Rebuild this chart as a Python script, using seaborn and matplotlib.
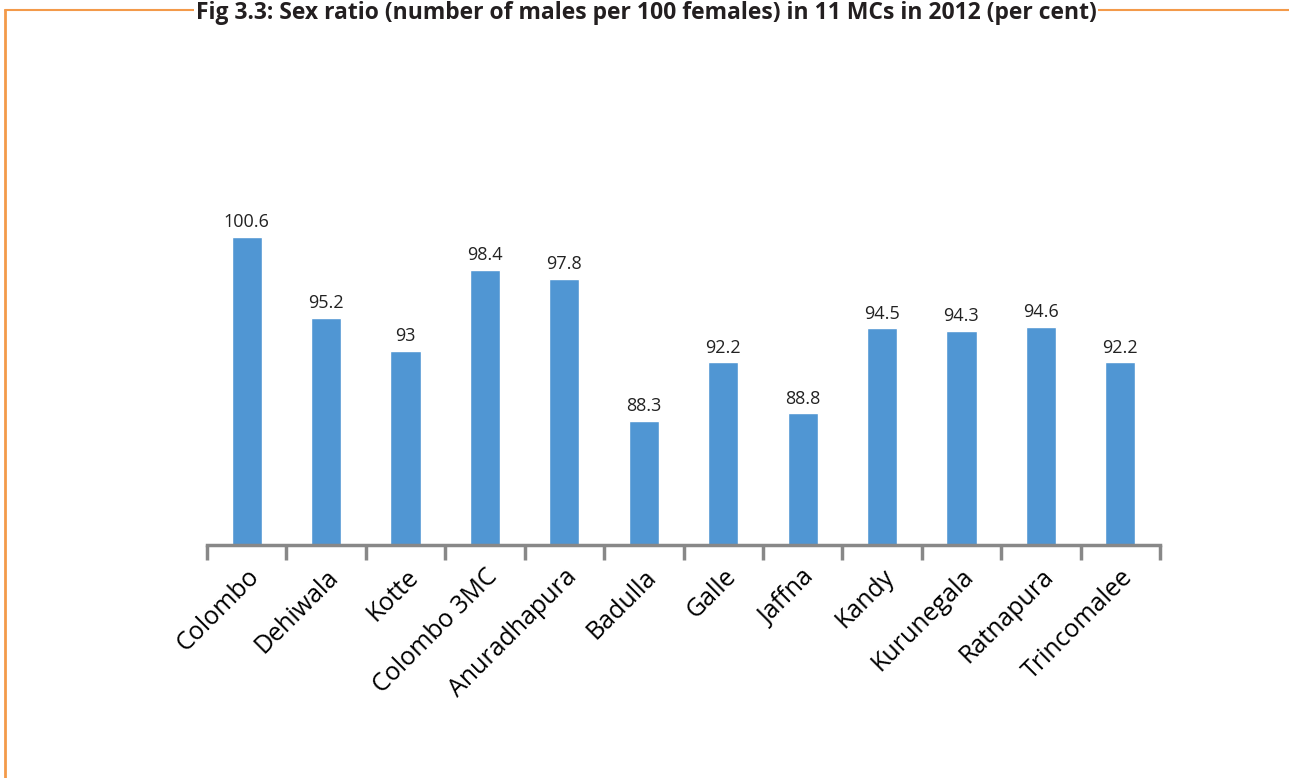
import numpy as np
import pandas as pd
import matplotlib
matplotlib.use("Agg")
import matplotlib.pyplot as plt
import seaborn as sns
from matplotlib.lines import Line2D

# Data
cities = ["Colombo", "Dehiwala", "Kotte", "Colombo 3MC", "Anuradhapura", "Badulla",
          "Galle", "Jaffna", "Kandy", "Kurunegala", "Ratnapura", "Trincomalee"]
sex_ratio = [100.6, 95.2, 93, 98.4, 97.8, 88.3, 92.2, 88.8, 94.5, 94.3, 94.6, 92.2]

df = pd.DataFrame({"city": cities, "ratio": sex_ratio})

sns.set_style("white")
plt.rcParams["font.family"] = ["Open Sans", "DejaVu Sans"]

W, H = 1289, 778
fig = plt.figure(figsize=(W / 100, H / 100), dpi=100)
ax = fig.add_axes([207 / W, (H - 545) / H, (1160 - 207) / W, (545 - 156) / H])

sns.barplot(data=df, x="city", y="ratio", color="#5096D3", width=0.38,
            saturation=1, ax=ax)
ax.set_ylim(80, 106)
ax.set_xlim(-0.5, len(cities) - 0.5)

ax.bar_label(ax.containers[0], labels=[f"{v:g}" for v in sex_ratio],
             padding=4, fontsize=13, color="#222222")

sns.despine(ax=ax, left=True)
ax.spines["bottom"].set_color("#888888")
ax.spines["bottom"].set_linewidth(2.5)
ax.set_yticks([])
ax.set_xlabel("")
ax.set_ylabel("")

# tick marks between categories
ax.set_xticks(np.arange(-0.5, len(cities)), minor=True)
ax.tick_params(axis="x", which="minor", length=11, width=2.5, color="#888888",
               direction="out", bottom=True)
ax.tick_params(axis="x", which="major", length=0, pad=14)
ax.set_xticks(range(len(cities)))
ax.set_xticklabels(cities, rotation=45, ha="right", rotation_mode="anchor",
                   fontsize=18, color="black")

# orange frame lines
orange = "#F39A4A"
fig.add_artist(Line2D([5 / W, 1.0], [1 - 10 / H, 1 - 10 / H], color=orange,
                      lw=1.5, transform=fig.transFigure, zorder=1))
fig.add_artist(Line2D([5 / W, 5 / W], [0, 1 - 10 / H], color=orange,
                      lw=2, transform=fig.transFigure, zorder=1))

fig.text(646 / W, 1 - 13 / H,
         "Fig 3.3: Sex ratio (number of males per 100 females) in 11 MCs in 2012 (per cent)",
         ha="center", va="center", fontsize=16.5, fontweight="bold",
         color="#231F20", family=["Open Sans", "DejaVu Sans"],
         bbox=dict(facecolor="white", edgecolor="none", pad=1), zorder=5)

fig.savefig("out.png", dpi=100)
